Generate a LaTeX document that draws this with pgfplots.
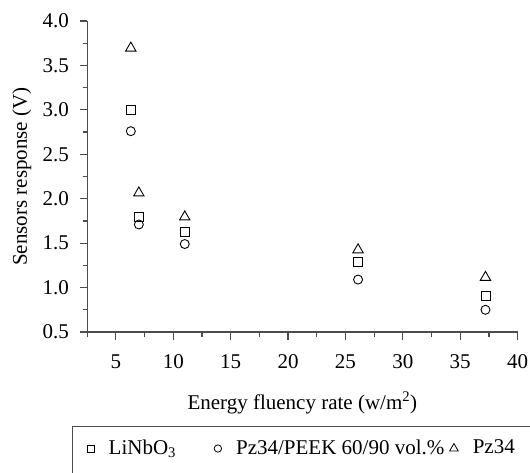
\documentclass[border=0pt]{standalone}
\usepackage{pgfplots}
\pgfplotsset{compat=1.18}
\usepackage{fontspec}
\setmainfont{Liberation Serif}
\begin{document}
\fontsize{21}{25}\selectfont
\begin{tikzpicture}[x=1pt,y=1pt]
\begin{axis}[
  at={(87.2pt,140pt)}, anchor=south west,
  scale only axis, width=430.4pt, height=311pt,
  xmin=2.5, xmax=40, ymin=0.5, ymax=4,
  axis lines=left,
  axis line style={-, line width=1.2pt, black!70},
  xtick={5,10,15,20,25,30,35,40},
  minor xtick={2.5,7.5,12.5,17.5,22.5,27.5,32.5,37.5},
  ytick={0.5,1.0,1.5,2.0,2.5,3.0,3.5,4.0},
  minor ytick={0.75,1.25,1.75,2.25,2.75,3.25,3.75},
  tick align=outside, major tick length=7.5pt, minor tick length=4.5pt,
  every tick/.style={line width=1.2pt, black!70},
  /pgf/number format/assume math mode=true,
  yticklabel style={/pgf/number format/.cd, fixed, fixed zerofill, precision=1, /tikz/.cd, xshift=-3.5pt},
  xticklabel style={/pgf/number format/.cd, fixed, precision=0, /tikz/.cd, yshift=-8pt},
  xlabel={Energy fluency rate (w/m\textsuperscript{2})},
  xlabel style={at={(axis description cs:0.5,-0.2486)}, anchor=base},
  ylabel={Sensors response (V)},
  ylabel style={at={(axis description cs:-0.1399,0.5)}, anchor=base},
  legend style={draw=none, fill=none, at={(axis description cs:0,-0.3746)}, anchor=west,
    inner sep=0pt, outer sep=0pt, column sep=14.5pt, nodes={inner sep=0pt}},
  legend columns=3, legend cell align=left,
  legend image code/.code={\draw[#1] plot coordinates {(0pt,0pt)};},
]
\addlegendimage{only marks, mark=square, mark size=3.5pt, black, line width=0.8pt}
\addlegendentry{\makebox[91pt][l]{LiNbO\textsubscript{3}}}
\addlegendimage{only marks, mark=o, mark size=3.7pt, black, line width=0.8pt}
\addlegendentry{\makebox[199pt][l]{Pz34/PEEK 60/90 vol.\%}}
\addlegendimage{only marks, mark=triangle, mark size=5pt, black, line width=0.8pt}
\addlegendentry{Pz34}

\addplot[only marks, mark=square, mark size=4.5pt, black, line width=0.9pt, forget plot]
  coordinates {(6.3,3.00) (7.0,1.79) (11.0,1.63) (26.1,1.29) (37.2,0.91)};
\addplot[only marks, mark=o, mark size=4.5pt, black, line width=0.9pt, forget plot]
  coordinates {(6.3,2.76) (7.0,1.71) (11.0,1.49) (26.1,1.09) (37.2,0.75)};
\addplot[only marks, mark=triangle, mark size=6pt, black, line width=0.9pt, forget plot]
  coordinates {(6.3,3.695) (7.0,2.065) (11.0,1.795) (26.1,1.425) (37.2,1.115)};
\end{axis}
\draw[line width=1.3pt, black!70] (72.6,-10) rectangle (545,45.3);
\pgfresetboundingbox
\useasboundingbox (0,0) rectangle (530,472);
\end{tikzpicture}
\end{document}
